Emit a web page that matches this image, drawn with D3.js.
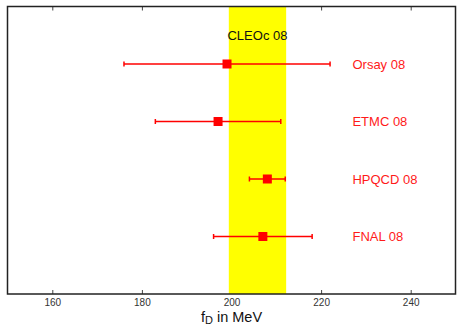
<!DOCTYPE html>
<html>
<head>
<meta charset="utf-8">
<script src="https://cdn.jsdelivr.net/npm/d3@7"></script>
<style>
  body { margin: 0; background: #fff; }
  svg { display: block; font-family: "Liberation Sans", Arial, sans-serif; }
</style>
</head>
<body>
<div id="chart"></div>
<script>
const labels = ['Orsay 08', 'ETMC 08', 'HPQCD 08', 'FNAL 08'];
const central = [199, 197, 208, 207];
const lower = [176, 183, 204, 196];
const upper = [222, 211, 212, 218];
const xTicks = [160, 180, 200, 220, 240];
const bandLabel = 'CLEOc 08';
const bandCenter = 205.8;
const bandHalf = 6.4;

const width = 457, height = 325;
const margin = { top: 6.5, right: 1.5, bottom: 31, left: 7.5 };
const w = width - margin.left - margin.right;
const h = height - margin.top - margin.bottom;

const svg = d3.select('#chart').append('svg')
  .attr('width', width)
  .attr('height', height);

const g = svg.append('g')
  .attr('transform', 'translate(' + margin.left + ',' + margin.top + ')');

const x = d3.scaleLinear().domain([150, 250]).range([0, w]);
const y = d3.scaleLinear().domain([0, labels.length + 1]).range([0, h]);

// bottom and top axes, ticks pointing inward
g.append('g')
  .attr('class', 'x axis')
  .attr('transform', 'translate(0,' + h + ')')
  .call(d3.axisBottom(x).tickValues(xTicks).tickSizeInner(-4).tickSizeOuter(0).tickPadding(5))
  .call(a => a.select('.domain').remove())
  .call(a => a.selectAll('line').attr('stroke', '#444'))
  .call(a => a.selectAll('text').attr('font-size', 10).attr('fill', '#333').attr('font-family', '"Liberation Sans", Arial, sans-serif'));

g.append('g')
  .attr('class', 'x axis top')
  .call(d3.axisTop(x).tickValues(xTicks).tickSizeInner(-4).tickSizeOuter(0).tickFormat(''))
  .call(a => a.select('.domain').remove())
  .call(a => a.selectAll('line').attr('stroke', '#444'));

// CLEOc band
g.append('rect')
  .attr('x', x(bandCenter - bandHalf))
  .attr('y', 0)
  .attr('width', x(bandCenter + bandHalf) - x(bandCenter - bandHalf))
  .attr('height', h)
  .attr('fill', '#ffff00');

g.append('text')
  .attr('x', x(bandCenter))
  .attr('y', y(0.5))
  .attr('dy', '0.35em')
  .attr('text-anchor', 'middle')
  .attr('font-size', 13)
  .attr('fill', '#111')
  .text(bandLabel);

// frame
g.append('rect')
  .attr('width', w)
  .attr('height', h)
  .attr('fill', 'none')
  .attr('stroke', '#222')
  .attr('stroke-width', 1.5);

const rows = labels.map((d, i) => ({ name: d, c: central[i], lo: lower[i], hi: upper[i], i: i + 1 }));

const pt = g.selectAll('.pt').data(rows).enter().append('g').attr('class', 'pt');

pt.append('line')
  .attr('x1', d => x(d.lo))
  .attr('x2', d => x(d.hi))
  .attr('y1', d => y(d.i))
  .attr('y2', d => y(d.i))
  .attr('stroke', '#ff0000')
  .attr('stroke-width', 1.5);

pt.selectAll('.cap')
  .data(d => [{ v: d.lo, i: d.i }, { v: d.hi, i: d.i }])
  .enter().append('line')
  .attr('x1', d => x(d.v))
  .attr('x2', d => x(d.v))
  .attr('y1', d => y(d.i) - 2.5)
  .attr('y2', d => y(d.i) + 2.5)
  .attr('stroke', '#ff0000')
  .attr('stroke-width', 1.5);

pt.append('rect')
  .attr('x', d => x(d.c) - 4.5)
  .attr('y', d => y(d.i) - 4.5)
  .attr('width', 9)
  .attr('height', 9)
  .attr('fill', '#ff0000');

pt.append('text')
  .attr('x', x(227))
  .attr('y', d => y(d.i))
  .attr('dy', '0.35em')
  .attr('font-size', 13)
  .attr('fill', '#ff1a1a')
  .text(d => d.name);

// x label
const xl = svg.append('text')
  .attr('x', margin.left + w / 2)
  .attr('y', 321.5)
  .attr('text-anchor', 'middle')
  .attr('font-size', 14.5)
  .attr('fill', '#111');
xl.append('tspan').text('f');
xl.append('tspan').attr('font-size', 11).attr('dy', 2.5).text('D');
xl.append('tspan').attr('dy', -2.5).text(' in MeV');
</script>
</body>
</html>
